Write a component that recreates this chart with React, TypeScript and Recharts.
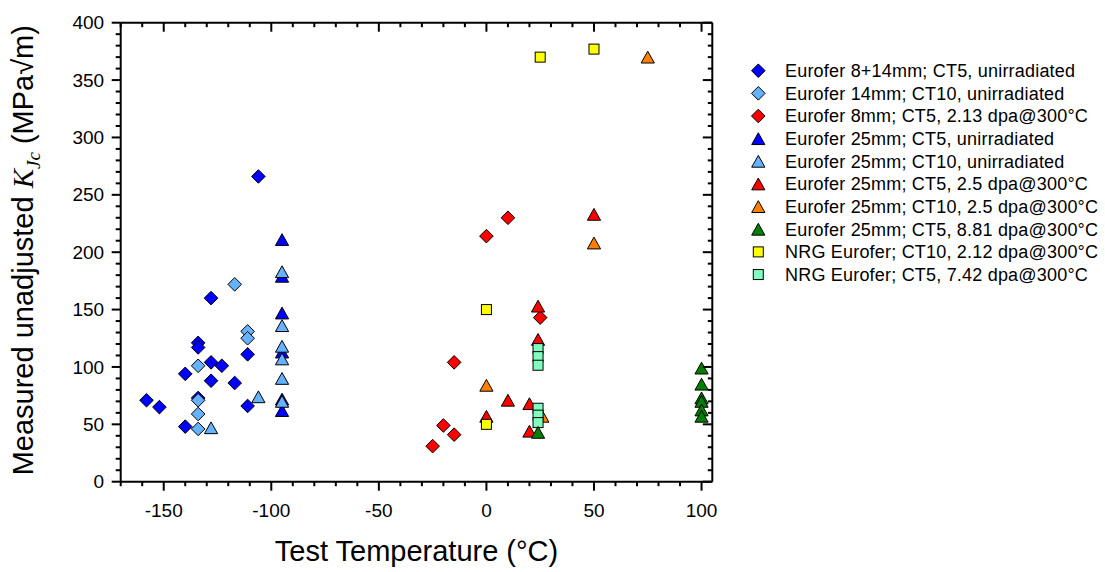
import React from 'react';
import { ScatterChart, Scatter, XAxis, YAxis } from 'recharts';

type Pt = [number, number];

// ---- data (Test temperature °C, KJc MPa√m) ----
const eurofer814CT5Unirr: Pt[] = [
  [-158, 71], [-152, 65], [-140, 48], [-140, 94], [-134, 121], [-134, 117], [-134, 73],
  [-128, 160], [-128, 104], [-128, 88], [-123, 101], [-117, 86], [-111, 111], [-111, 66], [-106, 266],
];
const eurofer14CT10Unirr: Pt[] = [
  [-117, 172], [-111, 131], [-111, 125], [-134, 101], [-134, 71], [-134, 59], [-134, 46],
];
const eurofer8CT5Irr213: Pt[] = [
  [-25, 31], [-20, 49], [-15, 41], [-15, 104], [0, 214], [10, 230], [25, 143],
];
const eurofer25CT5Unirr: Pt[] = [
  [-95, 211], [-95, 179], [-95, 147], [-95, 113], [-95, 72], [-95, 62],
];
const eurofer25CT10Unirr: Pt[] = [
  [-95, 183], [-95, 136], [-95, 118], [-95, 107], [-95, 90], [-95, 70], [-106, 74], [-128, 47],
];
const eurofer25CT5Irr25: Pt[] = [
  [50, 233], [24, 153], [24, 124], [10, 71], [20, 68], [20, 44], [0, 57],
];
const eurofer25CT10Irr25: Pt[] = [
  [75, 370], [50, 208], [0, 84], [26, 57],
];
const eurofer25CT5Irr881: Pt[] = [
  [100, 99], [100, 85], [100, 73], [100, 70], [100, 62.5], [100, 57], [24, 43],
];
const nrgCT10Irr212: Pt[] = [
  [25, 370], [50, 377], [0, 150], [0, 50],
];
const nrgCT5Irr742: Pt[] = [
  [24, 116], [24, 109], [24, 101.5], [24, 64], [24, 58], [24, 51.5],
];

const seriesNames = [
  'Eurofer 8+14mm; CT5, unirradiated',
  'Eurofer 14mm; CT10, unirradiated',
  'Eurofer 8mm; CT5, 2.13 dpa@300°C',
  'Eurofer 25mm; CT5, unirradiated',
  'Eurofer 25mm; CT10, unirradiated',
  'Eurofer 25mm; CT5, 2.5 dpa@300°C',
  'Eurofer 25mm; CT10, 2.5 dpa@300°C',
  'Eurofer 25mm; CT5, 8.81 dpa@300°C',
  'NRG Eurofer; CT10, 2.12 dpa@300°C',
  'NRG Eurofer; CT5, 7.42 dpa@300°C',
];

const xDomain: [number, number] = [-170, 105];
const yDomain: [number, number] = [0, 400];
const xTicks: number[] = [-170, -160, -150, -140, -130, -120, -110, -100, -90, -80, -70, -60, -50, -40, -30, -20, -10, 0, 10, 20, 30, 40, 50, 60, 70, 80, 90, 100];
const yTicks: number[] = [0, 10, 20, 30, 40, 50, 60, 70, 80, 90, 100, 110, 120, 130, 140, 150, 160, 170, 180, 190, 200, 210, 220, 230, 240, 250, 260, 270, 280, 290, 300, 310, 320, 330, 340, 350, 360, 370, 380, 390, 400];

type Kind = 'diamond' | 'triangle' | 'square';
interface SeriesDef { name: string; kind: Kind; fill: string; data: Pt[]; }

const series: SeriesDef[] = [
  { name: seriesNames[0], kind: 'diamond', fill: '#0000FF', data: eurofer814CT5Unirr },
  { name: seriesNames[1], kind: 'diamond', fill: '#66B2FF', data: eurofer14CT10Unirr },
  { name: seriesNames[2], kind: 'diamond', fill: '#FF0000', data: eurofer8CT5Irr213 },
  { name: seriesNames[3], kind: 'triangle', fill: '#0000FF', data: eurofer25CT5Unirr },
  { name: seriesNames[4], kind: 'triangle', fill: '#66B2FF', data: eurofer25CT10Unirr },
  { name: seriesNames[5], kind: 'triangle', fill: '#FF0000', data: eurofer25CT5Irr25 },
  { name: seriesNames[6], kind: 'triangle', fill: '#FF8000', data: eurofer25CT10Irr25 },
  { name: seriesNames[7], kind: 'triangle', fill: '#008000', data: eurofer25CT5Irr881 },
  { name: seriesNames[8], kind: 'square', fill: '#FFFF00', data: nrgCT10Irr212 },
  { name: seriesNames[9], kind: 'square', fill: '#80FFBF', data: nrgCT5Irr742 },
];
// draw order (green triangles on top of the NRG squares)
const drawOrder = [0, 1, 2, 3, 4, 5, 6, 8, 9, 7];

const FONT = "'Liberation Sans', Arial, Helvetica, sans-serif";
const SERIF = "'Liberation Serif', 'Times New Roman', serif";

// chart geometry
const W = 1105, H = 572;
const PLOT = { left: 120.7, top: 22.7, right: 712.3, bottom: 481.7 };
const sx = (v: number) => PLOT.left + ((v - xDomain[0]) / (xDomain[1] - xDomain[0])) * (PLOT.right - PLOT.left);
const sy = (v: number) => PLOT.bottom - ((v - yDomain[0]) / (yDomain[1] - yDomain[0])) * (PLOT.bottom - PLOT.top);

function Marker({ kind, cx, cy, fill }: { kind: Kind; cx: number; cy: number; fill: string }) {
  if (kind === 'diamond') {
    const r = 6.8;
    return <polygon points={`${cx},${cy - r} ${cx + r},${cy} ${cx},${cy + r} ${cx - r},${cy}`} fill={fill} stroke="#000" strokeWidth={1} />;
  }
  if (kind === 'triangle') {
    const w = 6.6, h = 5.9;
    return <polygon points={`${cx},${cy - h} ${cx + w},${cy + h} ${cx - w},${cy + h}`} fill={fill} stroke="#000" strokeWidth={1} />;
  }
  const s = 5;
  return <rect x={cx - s} y={cy - s} width={2 * s} height={2 * s} fill={fill} stroke="#000" strokeWidth={1} />;
}

const isMajor = (v: number) => Math.abs(v % 50) < 1e-9;
const TS = 8; // recharts tickSize (offset of tick props from the axis line)

const renderXBottomTick = (p: any) => {
  const v = p.payload.value;
  if (!isMajor(v)) return <g />;
  const line = Number(p.y) - TS;
  return (
    <text x={Number(p.x)} y={line + 35} textAnchor="middle" fontSize={19} fontFamily={FONT} fill="#000">{v}</text>
  );
};
const renderYLeftTick = (p: any) => {
  const v = p.payload.value;
  if (!isMajor(v)) return <g />;
  const line = Number(p.x) + TS;
  return (
    <text x={line - 16.5} y={Number(p.y) + 6.6} textAnchor="end" fontSize={19} fontFamily={FONT} fill="#000">{v}</text>
  );
};

const XTitle = (props: any) => {
  const vb = props.viewBox || { x: PLOT.left, y: PLOT.bottom, width: PLOT.right - PLOT.left };
  return (
    <text x={vb.x + vb.width / 2} y={vb.y + 79} textAnchor="middle" fontSize={29} fontFamily={FONT} fill="#000">
      Test Temperature (°C)
    </text>
  );
};
const YTitle = (props: any) => {
  const vb = props.viewBox || { x: 0, y: PLOT.top, width: PLOT.left, height: PLOT.bottom - PLOT.top };
  const cy = vb.y + vb.height / 2 - 2;
  return (
    <text transform={`translate(33.3, ${cy}) rotate(-90)`} x={0} y={0} textAnchor="middle" fontSize={29} fontFamily={FONT} fill="#000">
      <tspan>Measured unadjusted </tspan>
      <tspan fontFamily={SERIF} fontStyle="italic">K</tspan>
      <tspan fontFamily={SERIF} fontStyle="italic" fontSize={19} dy={7}>Jc</tspan>
      <tspan dy={-7}> (MPa√m)</tspan>
    </text>
  );
};

const axisLine = { stroke: '#000', strokeWidth: 2 };

export default function App() {
  const legendX = 758.3;
  const legendY0 = 70.7;
  const legendDy = 22.65;
  return (
    <div style={{ position: 'relative', width: W, height: H, background: '#fff' }}>
      <style>{'body{margin:0;}'}</style>
      <ScatterChart
        width={W}
        height={H}
        margin={{ top: PLOT.top, right: W - PLOT.right, bottom: 0, left: 0 }}
      >
        <XAxis
          xAxisId={0}
          type="number"
          dataKey="x"
          domain={xDomain}
          ticks={xTicks}
          interval={0}
          height={H - PLOT.bottom}
          tickSize={TS}
          tickMargin={0}
          tickLine={false}
          axisLine={axisLine}
          tick={renderXBottomTick}
          label={{ content: (p: any) => <XTitle {...p} /> }}
        />
        <XAxis
          xAxisId="top"
          orientation="top"
          type="number"
          dataKey="x"
          domain={xDomain}
          ticks={xTicks}
          interval={0}
          height={1}
          mirror
          tickSize={TS}
          tickMargin={0}
          tickLine={false}
          axisLine={axisLine}
          tick={false}
        />
        <YAxis
          yAxisId={0}
          type="number"
          dataKey="y"
          domain={yDomain}
          ticks={yTicks}
          interval={0}
          width={PLOT.left}
          tickSize={TS}
          tickMargin={0}
          tickLine={false}
          axisLine={axisLine}
          tick={renderYLeftTick}
          label={{ content: (p: any) => <YTitle {...p} /> }}
        />
        <YAxis
          yAxisId="right"
          orientation="right"
          type="number"
          dataKey="y"
          domain={yDomain}
          ticks={yTicks}
          interval={0}
          width={1}
          mirror
          tickSize={TS}
          tickMargin={0}
          tickLine={false}
          axisLine={axisLine}
          tick={false}
        />
        {drawOrder.map((i) => {
          const s = series[i];
          return (
            <Scatter
              key={s.name}
              name={s.name}
              xAxisId={0}
              yAxisId={0}
              data={s.data.map(([x, y]) => ({ x, y }))}
              isAnimationActive={false}
              shape={(p: any) => <Marker kind={s.kind} cx={p.cx} cy={p.cy} fill={s.fill} />}
            />
          );
        })}
        <Scatter
          name="frame"
          xAxisId="top"
          yAxisId="right"
          data={eurofer25CT10Irr25.map(([x, y]) => ({ x, y }))}
          isAnimationActive={false}
          legendType="none"
          shape={() => <g />}
        />
      </ScatterChart>
      <svg width={W} height={H} style={{ position: 'absolute', left: 0, top: 0, pointerEvents: 'none' }}>
        {/* tick marks: outward on bottom/left, inward on top/right */}
        {xTicks.map((v) => {
          const x = sx(v);
          const len = isMajor(v) ? 9 : 4.5;
          return (
            <g key={`xt${v}`}>
              <rect x={x - 1} y={PLOT.bottom} width={2} height={len} fill="#000" />
              <rect x={x - 1} y={PLOT.top} width={2} height={len} fill="#000" />
            </g>
          );
        })}
        {yTicks.map((v) => {
          const y = sy(v);
          const lenL = isMajor(v) ? 9 : 5;
          const lenR = isMajor(v) ? 9.5 : 4.5;
          return (
            <g key={`yt${v}`}>
              <rect x={PLOT.left - lenL} y={y - 1} width={lenL} height={2} fill="#000" />
              <rect x={PLOT.right - lenR} y={y - 1} width={lenR} height={2} fill="#000" />
            </g>
          );
        })}
        {series.map((s, i) => {
          const cy = legendY0 + i * legendDy;
          return (
            <g key={s.name}>
              <Marker kind={s.kind} cx={legendX} cy={cy} fill={s.fill} />
              <text x={785} y={cy + 6.3} fontSize={18} letterSpacing={0.2} fontFamily={FONT} fill="#000">{s.name}</text>
            </g>
          );
        })}
      </svg>
    </div>
  );
}
